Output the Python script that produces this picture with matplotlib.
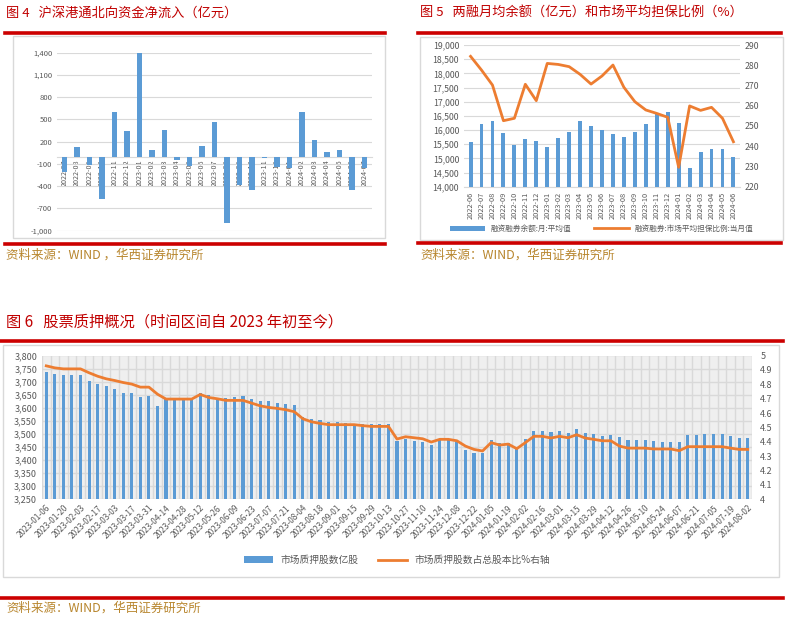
import numpy as np
import matplotlib
matplotlib.use('Agg')
import matplotlib.pyplot as plt
from matplotlib.lines import Line2D
from matplotlib.patches import Rectangle, Patch

plt.rcParams['font.family'] = ['Noto Sans CJK SC', 'DejaVu Sans']

# ---- 图4 数据 ----
months4 = ['2022-07', '2022-08', '2022-09', '2022-10', '2022-11', '2022-12',
           '2023-01', '2023-02', '2023-03', '2023-04', '2023-05', '2023-06',
           '2023-07', '2023-08', '2023-09', '2023-10', '2023-11', '2023-12',
           '2024-01', '2024-02', '2024-03', '2024-04', '2024-05', '2024-06', '2024-07']
inflow = [-210, 126, -110, -571, 602, 346, 1410, 90, 355, -45, -121, 139,
          467, -899, -385, -454, -22, -135, -148, 602, 220, 63, 85, -445, -157]

# ---- 图5 数据 ----
months5 = ['2022-06', '2022-07', '2022-08', '2022-09', '2022-10', '2022-11', '2022-12',
           '2023-01', '2023-02', '2023-03', '2023-04', '2023-05', '2023-06', '2023-07',
           '2023-08', '2023-09', '2023-10', '2023-11', '2023-12', '2024-01', '2024-02',
           '2024-03', '2024-04', '2024-05', '2024-06']
margin_bal = [15560, 16200, 16305, 15893, 15470, 15670, 15600, 15388, 15705, 15917,
              16305, 16140, 16011, 15858, 15764, 15929, 16211, 16600, 16634, 16246,
              14659, 15211, 15317, 15329, 15047]
collateral = [284.4, 277.6, 270.2, 252.6, 253.8, 270.6, 262.5, 280.9, 280.4, 279.3,
              275.5, 270.7, 274.7, 280.1, 269.1, 262.0, 257.9, 256.2, 254.3, 229.6,
              259.9, 257.7, 259.2, 253.8, 242.2]

# ---- 图6 数据（周度）----
weeks6 = [d.strftime('%Y-%m-%d') for d in
          __import__('pandas').date_range('2023-01-06', '2024-08-02', freq='7D')]
pledge_shares = [3736, 3729, 3726, 3726, 3726, 3703, 3691, 3682, 3672, 3656,
                 3656, 3640, 3645, 3605, 3635, 3635, 3635, 3635, 3658, 3650,
                 3638, 3636, 3640, 3647, 3633, 3627, 3626, 3617, 3614, 3610,
                 3566, 3557, 3552, 3544, 3544, 3541, 3537, 3537, 3538, 3538,
                 3537, 3474, 3481, 3474, 3468, 3458, 3476, 3476, 3469, 3439,
                 3427, 3427, 3477, 3465, 3465, 3444, 3482, 3511, 3511, 3507,
                 3511, 3504, 3519, 3504, 3500, 3493, 3496, 3487, 3477, 3477,
                 3476, 3473, 3471, 3471, 3469, 3497, 3496, 3500, 3500, 3500,
                 3493, 3486, 3486]
pledge_ratio = [4.928, 4.914, 4.907, 4.907, 4.907, 4.880, 4.856, 4.838, 4.826, 4.812,
                4.801, 4.780, 4.780, 4.731, 4.697, 4.697, 4.697, 4.697, 4.729, 4.708,
                4.699, 4.688, 4.688, 4.688, 4.669, 4.650, 4.639, 4.632, 4.623, 4.609,
                4.560, 4.539, 4.528, 4.519, 4.519, 4.519, 4.519, 4.512, 4.507, 4.507,
                4.507, 4.419, 4.435, 4.428, 4.421, 4.398, 4.417, 4.417, 4.407, 4.370,
                4.347, 4.336, 4.394, 4.377, 4.384, 4.352, 4.394, 4.438, 4.438, 4.426,
                4.438, 4.428, 4.449, 4.426, 4.417, 4.407, 4.407, 4.370, 4.356, 4.356,
                4.356, 4.350, 4.350, 4.350, 4.338, 4.366, 4.366, 4.366, 4.366, 4.366,
                4.356, 4.347, 4.347]

W, H = 785, 617
BLUE = '#5b9bd5'
ORANGE = '#ed7d31'
RED = '#cc0000'
TITLE_RED = '#c00000'
SRC = '#b8862e'
GRID = '#d9d9d9'
TXT = '#595959'

fig = plt.figure(figsize=(W / 100, H / 100), dpi=100)


def ax_px(x0, y0, x1, y1):
    return fig.add_axes([x0 / W, 1 - y1 / H, (x1 - x0) / W, (y1 - y0) / H])


def hline(x0, x1, y, lw=2.6):
    fig.add_artist(Line2D([x0 / W, x1 / W], [1 - y / H, 1 - y / H], color=RED, lw=lw))


def box(x0, y0, x1, y1):
    fig.add_artist(Rectangle((x0 / W, 1 - y1 / H), (x1 - x0) / W, (y1 - y0) / H,
                             fill=False, edgecolor=GRID, lw=1))


def text_px(x, y, s, **kw):
    fig.text(x / W, 1 - y / H, s, va='center', **kw)


def clean(ax):
    for s in ax.spines.values():
        s.set_visible(False)
    ax.tick_params(length=0, colors=TXT)


# ================= 图4 =================
text_px(6, 13, '图 4   沪深港通北向资金净流入（亿元）', color=TITLE_RED, fontsize=9.5)
hline(5, 385, 33)
box(13, 36, 385, 238)
ax4 = ax_px(57, 52.7, 372, 230.7)
x4 = np.arange(len(months4))
ax4.bar(x4, inflow, width=0.42, color=BLUE, zorder=3)
ax4.set_ylim(-1000, 1400)
ax4.set_xlim(-0.6, len(months4) - 0.4)
ax4.set_yticks(range(-1000, 1401, 300))
ax4.set_yticklabels([f'{v:,}' for v in range(-1000, 1401, 300)], fontsize=5.5)
ax4.yaxis.grid(True, color=GRID, lw=0.8, zorder=0)
ax4.set_axisbelow(True)
clean(ax4)
ax4.spines['bottom'].set_visible(True)
ax4.spines['bottom'].set_position(('data', 0))
ax4.spines['bottom'].set_color(GRID)
ax4.set_xticks(x4)
ax4.set_xticklabels(months4, rotation=90, fontsize=5.2)
ax4.tick_params(axis='x', pad=2)
hline(5, 385, 244)
text_px(6, 255, '资料来源：WIND ，华西证券研究所', color=SRC, fontsize=9)

# ================= 图5 =================
text_px(420, 13, '图 5   两融月均余额（亿元）和市场平均担保比例（%）', color=TITLE_RED, fontsize=9.5)
hline(418, 781, 33)
box(420, 37, 783, 240)
ax5 = ax_px(464, 45, 740, 186.7)
x5 = np.arange(len(months5))
ax5.bar(x5, margin_bal, width=0.36, color=BLUE, zorder=3, label='融资融券余额:月:平均值')
ax5.set_ylim(14000, 19000)
ax5.set_xlim(-0.6, len(months5) - 0.4)
ax5.set_yticks(range(14000, 19001, 500))
ax5.set_yticklabels([f'{v:,}' for v in range(14000, 19001, 500)], fontsize=6.3)
ax5.yaxis.grid(True, color=GRID, lw=0.8, zorder=0)
ax5.set_axisbelow(True)
ax5.set_xticks(x5)
ax5.set_xticklabels(months5, rotation=90, fontsize=5.3)
clean(ax5)
ax5.spines['bottom'].set_visible(True)
ax5.spines['bottom'].set_color(GRID)
ax5b = ax5.twinx()
ax5b.plot(x5, collateral, color=ORANGE, lw=2, zorder=4, label='融资融券:市场平均担保比例:当月值')
ax5b.set_ylim(220, 290)
ax5b.set_yticks(range(220, 291, 10))
ax5b.tick_params(labelsize=6.3)
clean(ax5b)
h1, l1 = ax5.get_legend_handles_labels()
h2, l2 = ax5b.get_legend_handles_labels()
fig.legend(h1 + h2, l1 + l2, loc='center', bbox_to_anchor=(602 / W, 1 - 229 / H),
           ncol=2, frameon=False, fontsize=5.5, handlelength=4.5, columnspacing=3,
           labelcolor=TXT)
hline(418, 781, 243)
text_px(420, 255, '资料来源：WIND，华西证券研究所', color=SRC, fontsize=9)

# ================= 图6 =================
text_px(6, 322, '图 6   股票质押概况（时间区间自 2023 年初至今）', color=TITLE_RED, fontsize=11)
hline(0, 783, 341)
box(3, 345, 779, 577)
ax6 = ax_px(42, 355.5, 752, 499.3)
x6 = np.arange(len(weeks6))
ax6.set_facecolor('#efefef')
ax6.bar(x6, pledge_shares, width=0.36, color=BLUE, zorder=3, label='市场质押股数亿股')
ax6.set_ylim(3250, 3800)
ax6.set_xlim(-0.5, len(weeks6) - 0.5)
ax6.set_yticks(range(3250, 3801, 50))
ax6.set_yticklabels([f'{v:,}' for v in range(3250, 3801, 50)], fontsize=6.5)
ax6.set_xticks(x6[::2])
ax6.set_xticklabels(weeks6[::2], rotation=45, ha='right', rotation_mode='anchor', fontsize=6)
ax6.set_xticks(np.arange(-0.5, len(weeks6), 1), minor=True)
ax6.yaxis.grid(True, color=GRID, lw=1, zorder=0)
ax6.xaxis.grid(True, which='minor', color=GRID, lw=1, zorder=0)
ax6.set_axisbelow(True)
clean(ax6)
ax6.tick_params(axis='x', which='both', length=0, pad=3)
ax6b = ax6.twinx()
ax6b.plot(x6, pledge_ratio, color=ORANGE, lw=2, zorder=4, label='市场质押股数占总股本比%右轴')
ax6b.set_ylim(4, 5)
rt = np.round(np.arange(4, 5.01, 0.1), 1)
ax6b.set_yticks(rt)
ax6b.set_yticklabels([('%g' % v) for v in rt], fontsize=6.5)
clean(ax6b)
ax6b.tick_params(pad=6)
h1, l1 = ax6.get_legend_handles_labels()
h2, l2 = ax6b.get_legend_handles_labels()
fig.legend(h1 + h2, l1 + l2, loc='center', bbox_to_anchor=(397 / W, 1 - 560 / H),
           ncol=2, frameon=False, fontsize=7, handlelength=3, columnspacing=2,
           labelcolor=TXT)
hline(0, 783, 598)
text_px(6, 608, '资料来源：WIND，华西证券研究所', color=SRC, fontsize=9)

fig.savefig('out.png', dpi=100)
